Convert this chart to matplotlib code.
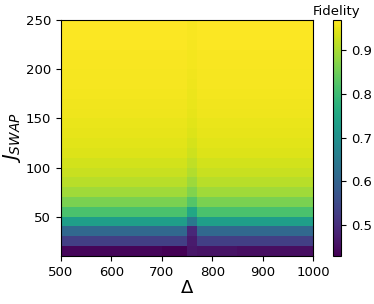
import numpy as np
import matplotlib
matplotlib.use("Agg")
import matplotlib.pyplot as plt

# Grid (cell edges)
delta_edges = np.arange(500, 1001, 10)   # Δ axis
jswap_edges = np.arange(10, 251, 10)     # J_SWAP axis

# Fidelity per J_SWAP row (bottom -> top), away from the resonance strip
fid_rows = [0.437, 0.530, 0.610, 0.730, 0.815, 0.860, 0.893, 0.912,
            0.924, 0.933, 0.940, 0.945, 0.949, 0.952, 0.955, 0.957,
            0.959, 0.961, 0.962, 0.963, 0.964, 0.965, 0.966, 0.967]
# Fidelity per row inside the strip at Δ = 750..770
fid_strip = [0.462, 0.468, 0.490, 0.645, 0.750, 0.825, 0.866, 0.890,
             0.906, 0.918, 0.927, 0.934, 0.940, 0.944, 0.948, 0.951,
             0.953, 0.955, 0.957, 0.959, 0.960, 0.962, 0.963, 0.964]
strip_range = (750, 770)
# Lowest row varies along Δ: (Δ from, Δ to, fidelity)
bottom_row = [(500, 700, 0.437), (700, 750, 0.430),
              (770, 850, 0.455), (850, 1000, 0.450)]

ncol = len(delta_edges) - 1
nrow = len(jswap_edges) - 1
F = np.zeros((nrow, ncol))
centers = 0.5 * (delta_edges[:-1] + delta_edges[1:])
for c, xc in enumerate(centers):
    if strip_range[0] <= xc < strip_range[1]:
        F[:, c] = fid_strip
    else:
        F[:, c] = fid_rows
        for lo, hi, v in bottom_row:
            if lo <= xc < hi:
                F[0, c] = v

fig = plt.figure(figsize=(3.74, 3.04), dpi=100)
ax = fig.add_axes([0.163, 0.158, 0.674, 0.776])
mesh = ax.pcolormesh(delta_edges, jswap_edges, F, cmap="viridis",
                     vmin=0.429, vmax=0.969, shading="flat")
ax.set_xlim(500, 1000)
ax.set_ylim(10, 250)
ax.set_xticks([500, 600, 700, 800, 900, 1000])
ax.set_yticks([50, 100, 150, 200, 250])
ax.tick_params(labelsize=9.5)
ax.set_xlabel(r"$\Delta$", fontsize=13, labelpad=0)
ax.set_ylabel(r"$J_{SWAP}$", fontsize=14, labelpad=2)

cax = fig.add_axes([0.890, 0.158, 0.022, 0.776])
cb = fig.colorbar(mesh, cax=cax, ticks=[0.5, 0.6, 0.7, 0.8, 0.9])
cb.ax.tick_params(labelsize=9.5)
cax.set_title("Fidelity", fontsize=9.5, pad=4)

fig.savefig("out.png", dpi=100)
